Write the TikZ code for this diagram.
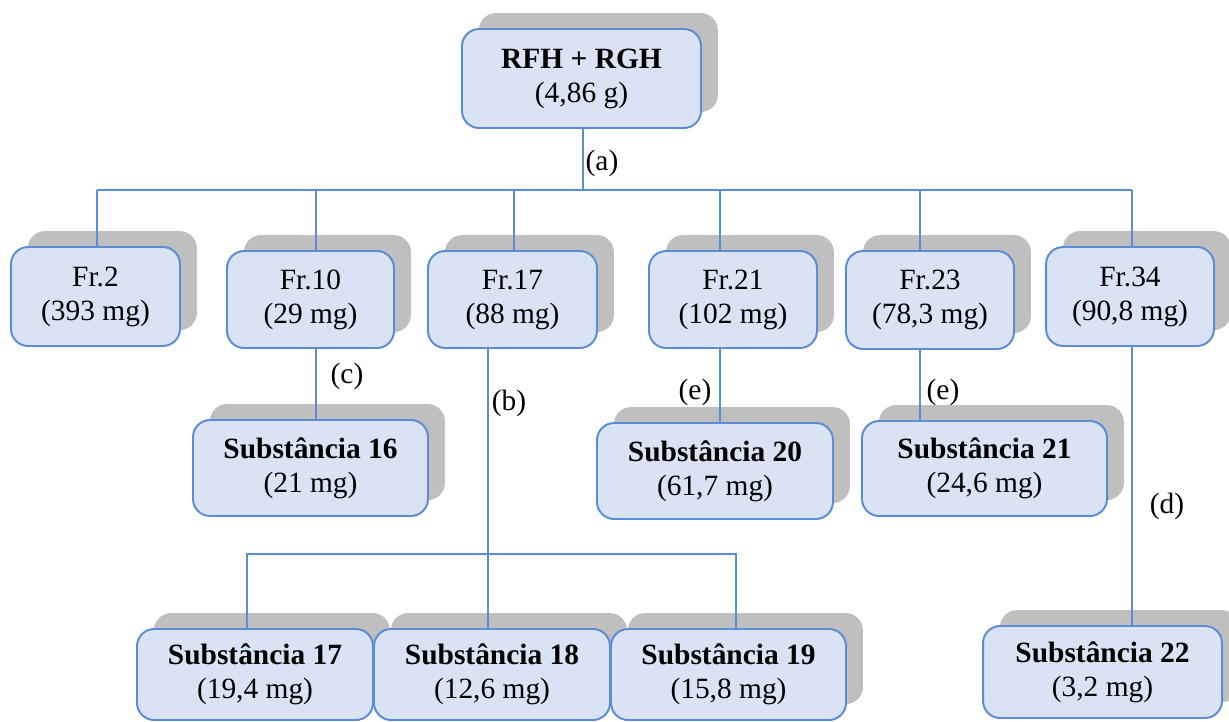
\documentclass[tikz,border=0pt]{standalone}
\usepackage{fontspec}
\setmainfont{Liberation Serif}
\usetikzlibrary{shadows}
\definecolor{boxfill}{HTML}{DAE3F3}
\definecolor{boxline}{HTML}{5B8DD6}
\definecolor{shadegray}{HTML}{BFBFBF}
\tikzset{
  fracbox/.style 2 args={draw=boxline, fill=boxfill, line width=0.8pt,
    rounded corners=7pt, align=center, inner sep=0pt,
    minimum width=#1*0.408pt, minimum height=#2*0.408pt,
    font=\fontsize{12}{13.9}\selectfont,
    general shadow={fill=shadegray, shadow xshift=6.9pt, shadow yshift=6.5pt}},
  link/.style={draw=boxline, line width=0.6pt},
  lab/.style={font=\fontsize{12}{14}\selectfont, inner sep=1pt},
}

\begin{document}
\begin{tikzpicture}[x=0.408pt, y=-0.408pt]
    \useasboundingbox (0,0) rectangle (1229,721);
    % extrato inicial
    \node[fracbox={239}{99}] (top) at (581.5,78.5) {\textbf{RFH + RGH}\\(4,86 g)};
    % frações
    \node[fracbox={169}{99}] (fr2)  at (95.5,296.5)  {Fr.2\\(393 mg)};
    \node[fracbox={167}{97}] (fr10) at (310.5,299.5) {Fr.10\\(29 mg)};
    \node[fracbox={169}{97}] (fr17) at (512.5,299.5) {Fr.17\\(88 mg)};
    \node[fracbox={168}{97}] (fr21) at (733,299.5)   {Fr.21\\(102 mg)};
    \node[fracbox={168}{98}] (fr23) at (930,300)     {Fr.23\\(78,3 mg)};
    \node[fracbox={168}{99}] (fr34) at (1130,296.5)  {Fr.34\\(90,8 mg)};
    % substâncias
    \node[fracbox={235}{96}] (sub16) at (310.5,468) {\textbf{Substância 16}\\(21 mg)};
    \node[fracbox={236}{96}] (sub20) at (715,471)   {\textbf{Substância 20}\\(61,7 mg)};
    \node[fracbox={245}{95}] (sub21) at (984.5,468.5) {\textbf{Substância 21}\\(24,6 mg)};
    \node[fracbox={236}{91}] (sub17) at (255,674.5)   {\textbf{Substância 17}\\(19,4 mg)};
    \node[fracbox={236}{91}] (sub18) at (492,674.5)   {\textbf{Substância 18}\\(12,6 mg)};
    \node[fracbox={235}{91}] (sub19) at (728.5,674.5) {\textbf{Substância 19}\\(15,8 mg)};
    \node[fracbox={239}{92}] (sub22) at (1102.5,672)  {\textbf{Substância 22}\\(3,2 mg)};

    % barramento superior
    \coordinate (bus) at (583,190);
    \foreach \n/\x in {2/97,10/316,17/514,21/720,23/920,34/1132}
        \coordinate (d\n) at (\x,190);
    \draw[link] (top.south -| bus) -- (bus);
    \draw[link] (d2) -- (d34);
    \foreach \n in {2,10,17,21,23,34}
        \draw[link] (d\n) -- (d\n |- fr\n.north);

    % ligações às substâncias
    \coordinate (c18) at (488,554);
    \coordinate (c17) at (247,554);
    \coordinate (c19) at (736,554);
    \draw[link] (fr10.south -| d10) -- (sub16.north -| d10);
    \draw[link] (fr17.south -| c18) -- (sub18.north -| c18);
    \draw[link] (c17 |- sub17.north) -- (c17) -- (c19) -- (c19 |- sub19.north);
    \draw[link] (fr21.south -| d21) -- (sub20.north -| d21);
    \draw[link] (fr23.south -| d23) -- (sub21.north -| d23);
    \draw[link] (fr34.south -| d34) -- (sub22.north -| d34);

    % rótulos
    \node[lab] (la)  at (602,163)  {(a)};
    \node[lab] (lb)  at (509,403)  {(b)};
    \node[lab] (lc)  at (347,376)  {(c)};
    \node[lab] (le1) at (695,392)  {(e)};
    \node[lab] (le2) at (943,392)  {(e)};
    \node[lab] (ld)  at (1167,506) {(d)};
\end{tikzpicture}
\end{document}
